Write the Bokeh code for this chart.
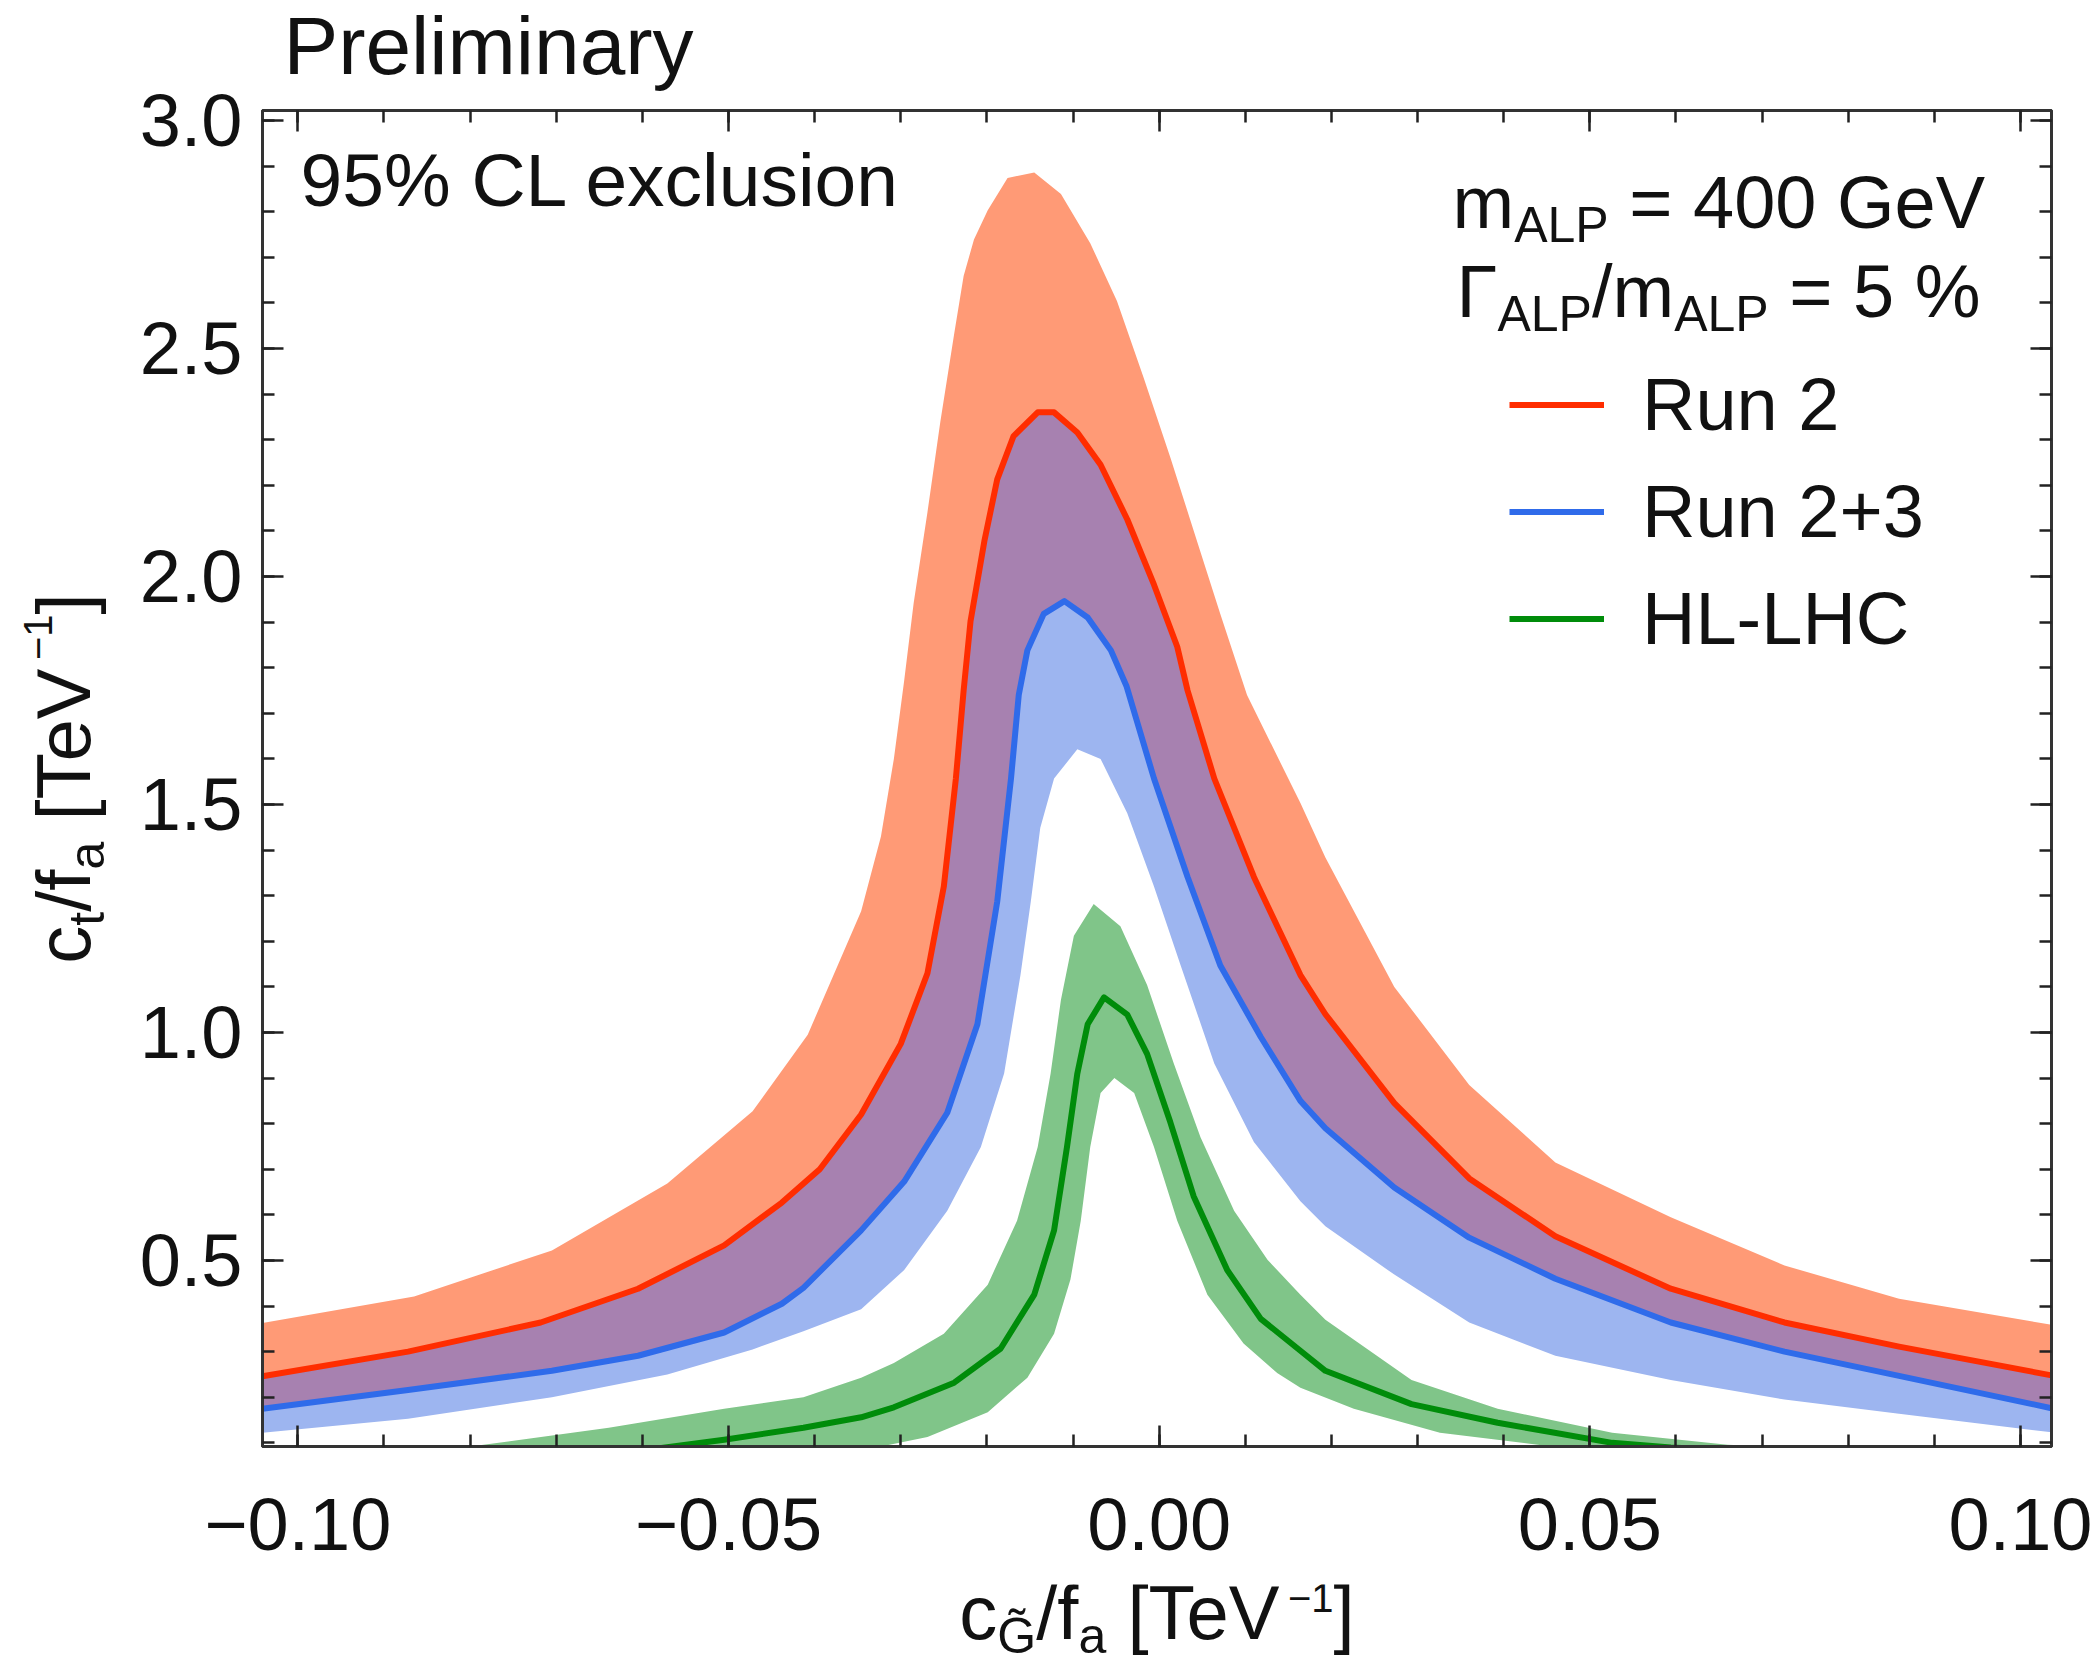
import math
from bokeh.plotting import figure
from bokeh.layouts import row, column
from bokeh.models import Range1d, LinearAxis, FixedTicker, Label, Legend, LegendItem
from bokeh.embed import file_html
from bokeh.resources import INLINE

# ---------------- data ----------------
run2_up_x = [-0.1041, -0.0865, -0.0705, -0.0571, -0.0472, -0.0408, -0.0346, -0.0323, -0.0308, -0.0296,
             -0.0285, -0.0269, -0.0254, -0.0238, -0.0227, -0.0215, -0.0199, -0.0176, -0.0145, -0.0114,
             -0.0080, -0.0049, -0.0018, 0.0013, 0.0040, 0.0071, 0.0102, 0.0164, 0.0193, 0.0273,
             0.0360, 0.0460, 0.0594, 0.0726, 0.0859, 0.1036]
run2_up_y = [0.363, 0.421, 0.522, 0.669, 0.827, 0.995, 1.266, 1.430, 1.600, 1.772,
             1.942, 2.141, 2.340, 2.532, 2.659, 2.739, 2.803, 2.874, 2.886, 2.839,
             2.731, 2.604, 2.436, 2.261, 2.101, 1.918, 1.740, 1.503, 1.384, 1.100,
             0.885, 0.715, 0.595, 0.489, 0.416, 0.359]

run2_x = [-0.1041, -0.0872, -0.0718, -0.0605, -0.0505, -0.0438, -0.0394, -0.0346, -0.0300, -0.0269,
          -0.0250, -0.0236, -0.0227, -0.0219, -0.0203, -0.0188, -0.0169, -0.0141, -0.0122, -0.0095,
          -0.0068, -0.0037, -0.0006, 0.0021, 0.0033, 0.0064, 0.0110, 0.0164, 0.0193, 0.0273,
          0.0360, 0.0460, 0.0594, 0.0726, 0.0859, 0.1036]
run2_y = [0.246, 0.300, 0.364, 0.438, 0.533, 0.627, 0.700, 0.820, 0.975, 1.130,
          1.320, 1.557, 1.750, 1.902, 2.077, 2.213, 2.308, 2.360, 2.360, 2.316,
          2.245, 2.125, 1.982, 1.846, 1.750, 1.557, 1.341, 1.126, 1.040, 0.845,
          0.680, 0.553, 0.438, 0.364, 0.311, 0.248]

run23_x = [-0.1041, -0.0872, -0.0705, -0.0605, -0.0505, -0.0438, -0.0413, -0.0346, -0.0296, -0.0246,
           -0.0211, -0.0188, -0.0172, -0.0163, -0.0153, -0.0134, -0.0110, -0.0083, -0.0056, -0.0038,
           -0.0006, 0.0033, 0.0071, 0.0118, 0.0164, 0.0193, 0.0273, 0.0360, 0.0460, 0.0594,
           0.0726, 0.0859, 0.1036]
run23_y = [0.175, 0.216, 0.258, 0.291, 0.342, 0.405, 0.440, 0.566, 0.673, 0.824,
           1.018, 1.287, 1.557, 1.740, 1.838, 1.918, 1.946, 1.910, 1.838, 1.760,
           1.557, 1.341, 1.147, 0.990, 0.850, 0.790, 0.660, 0.550, 0.460, 0.364,
           0.300, 0.247, 0.176]

run23_lo_x = [-0.1041, -0.0872, -0.0705, -0.0571, -0.0472, -0.0413, -0.0346, -0.0296, -0.0246, -0.0207,
              -0.0180, -0.0161, -0.0149, -0.0138, -0.0122, -0.0095, -0.0068, -0.0037, -0.0006, 0.0025,
              0.0064, 0.0110, 0.0164, 0.0193, 0.0273, 0.0360, 0.0460, 0.0594, 0.0726, 0.0859,
              0.1036]
run23_lo_y = [0.122, 0.153, 0.200, 0.250, 0.305, 0.345, 0.393, 0.479, 0.609, 0.749,
              0.910, 1.126, 1.287, 1.449, 1.557, 1.621, 1.600, 1.481, 1.320, 1.147,
              0.932, 0.760, 0.630, 0.575, 0.469, 0.364, 0.291, 0.238, 0.195, 0.164,
              0.123]

hl_up_x = [-0.1041, -0.0839, -0.0639, -0.0505, -0.0413, -0.0346, -0.0308, -0.0250, -0.0199, -0.0165,
           -0.0141, -0.0126, -0.0114, -0.0099, -0.0076, -0.0045, -0.0014, 0.0017, 0.0048, 0.0087,
           0.0126, 0.0164, 0.0193, 0.0293, 0.0393, 0.0526, 0.0660, 0.0793, 0.1036]
hl_up_y = [0.060, 0.082, 0.133, 0.175, 0.200, 0.243, 0.275, 0.339, 0.447, 0.587,
           0.749, 0.910, 1.072, 1.212, 1.282, 1.233, 1.104, 0.932, 0.770, 0.609,
           0.501, 0.425, 0.370, 0.238, 0.175, 0.122, 0.096, 0.085, 0.060]

hl_x = [-0.1041, -0.0605, -0.0505, -0.0413, -0.0346, -0.0308, -0.0238, -0.0184, -0.0145, -0.0122,
        -0.0107, -0.0095, -0.0083, -0.0064, -0.0037, -0.0014, 0.0013, 0.0040, 0.0079, 0.0118,
        0.0164, 0.0193, 0.0293, 0.0393, 0.0526, 0.0594, 0.1036]
hl_y = [0.045, 0.082, 0.107, 0.133, 0.156, 0.178, 0.232, 0.307, 0.425, 0.566,
        0.749, 0.910, 1.018, 1.077, 1.039, 0.953, 0.803, 0.641, 0.479, 0.372,
        0.302, 0.258, 0.185, 0.144, 0.100, 0.090, 0.050]

hl_lo_x = [-0.1041, -0.0500, -0.0346, -0.0269, -0.0199, -0.0153, -0.0122, -0.0103, -0.0091, -0.0080,
           -0.0068, -0.0052, -0.0029, -0.0006, 0.0021, 0.0056, 0.0098, 0.0137, 0.0164, 0.0226,
           0.0326, 0.0460, 0.1036]
hl_lo_y = [0.030, 0.060, 0.083, 0.113, 0.167, 0.243, 0.339, 0.458, 0.587, 0.749,
           0.867, 0.900, 0.867, 0.749, 0.587, 0.425, 0.318, 0.253, 0.221, 0.175,
           0.122, 0.091, 0.040]

series_labels = ["Run 2", "Run 2+3", "HL-LHC"]

x_ticks = [-0.10, -0.05, 0.0, 0.05, 0.10]
x_tick_labels = ["\u22120.10", "\u22120.05", "0.00", "0.05", "0.10"]
y_ticks = [0.5, 1.0, 1.5, 2.0, 2.5, 3.0]
y_tick_labels = ["0.5", "1.0", "1.5", "2.0", "2.5", "3.0"]
x_minor = [round(-0.10 + 0.01 * i, 2) for i in range(21)]
y_minor = [round(0.1 * i, 1) for i in range(1, 31)]

# ---------------- layout (absolute page pixels) ----------------
W, H = 2095, 1657
FL, FR, FT, FB = 262, 2051, 110, 1446      # plot frame
BOTTOM_BORDER = 138
LW, TH = 130, 94                           # left / top text strips
BH = H - FB - BOTTOM_BORDER                # bottom text strip
MW, MH = W - LW, H - TH - BH
FONT = "Liberation Sans"
TXT = "#111111"
BASE_SHIFT = 0.40   # renderer puts the alphabetic baseline this many em below the anchor


def strip(w, h, bl=0, br=0):
    f = figure(width=w, height=h, output_backend="svg", toolbar_location=None,
               x_range=Range1d(0, 1), y_range=Range1d(0, 1),
               x_axis_type=None, y_axis_type=None, min_border=0,
               min_border_left=bl, min_border_right=br)
    f.outline_line_color = None
    f.background_fill_color = "white"
    f.border_fill_color = "white"
    return f


left_fig = strip(LW, H)
top_fig = strip(MW, TH, FL - LW, W - FR)
bot_fig = strip(MW, BH, FL - LW, W - FR)

p = figure(width=MW, height=MH, output_backend="svg", toolbar_location=None,
           x_range=Range1d(-0.1041, 0.1036), y_range=Range1d(0.092, 3.022),
           x_axis_type=None, y_axis_type=None,
           min_border_left=FL - LW, min_border_right=W - FR,
           min_border_top=FT - TH, min_border_bottom=BOTTOM_BORDER)
p.outline_line_color = "#333333"
p.outline_line_width = 3
p.background_fill_color = "white"
p.border_fill_color = "white"


def make_axis(ticks, minor, labels, show, standoff):
    ax = LinearAxis(ticker=FixedTicker(ticks=ticks, minor_ticks=minor))
    ax.major_tick_in = 21
    ax.major_tick_out = 0
    ax.minor_tick_in = 12
    ax.minor_tick_out = 0
    ax.major_tick_line_color = "#222222"
    ax.minor_tick_line_color = "#222222"
    ax.major_tick_line_width = 2.5
    ax.minor_tick_line_width = 2.5
    ax.axis_line_color = "#333333"
    ax.axis_line_width = 3
    ax.major_label_text_font = FONT
    ax.major_label_standoff = standoff
    if show:
        ax.major_label_overrides = {t: l for t, l in zip(ticks, labels)}
        ax.major_label_text_color = TXT
        ax.major_label_text_font_size = "74px"
    else:
        # mirror axis: ticks only, labels not drawn at all
        ax.major_label_text_color = None
        ax.major_label_text_font_size = "0px"
    return ax


p.add_layout(make_axis(x_ticks, x_minor, x_tick_labels, True, 52), "below")
p.add_layout(make_axis(x_ticks, x_minor, x_tick_labels, False, 0), "above")
p.add_layout(make_axis(y_ticks, y_minor, y_tick_labels, True, 20), "left")
p.add_layout(make_axis(y_ticks, y_minor, y_tick_labels, False, 0), "right")


def band(xu, yu, xl, yl):
    return list(xu) + list(xl)[::-1], list(yu) + list(yl)[::-1]


bx, by = band(run2_up_x, run2_up_y, run2_x, run2_y)
p.patch(bx, by, fill_color="#FF9A76", line_color=None)
bx, by = band(run2_x, run2_y, run23_x, run23_y)
p.patch(bx, by, fill_color="#A781B0", line_color=None)
bx, by = band(run23_x, run23_y, run23_lo_x, run23_lo_y)
p.patch(bx, by, fill_color="#9DB5F0", line_color=None)
bx, by = band(hl_up_x, hl_up_y, hl_lo_x, hl_lo_y)
p.patch(bx, by, fill_color="#80C589", line_color=None)

r_red = p.line(run2_x, run2_y, line_color="#FF2D00", line_width=6, line_join="round")
r_blue = p.line(run23_x, run23_y, line_color="#2F6BEA", line_width=6, line_join="round")
r_green = p.line(hl_x, hl_y, line_color="#008C0A", line_width=6, line_join="round")

legend = Legend(items=[LegendItem(label=series_labels[0], renderers=[r_red]),
                       LegendItem(label=series_labels[1], renderers=[r_blue]),
                       LegendItem(label=series_labels[2], renderers=[r_green])],
                location=(1247, 785), orientation="vertical",
                glyph_width=95, glyph_height=85, label_height=85,
                label_standoff=38, spacing=22, padding=0, margin=0,
                background_fill_alpha=0, border_line_color=None,
                label_text_font=FONT, label_text_font_size="74px",
                label_text_color=TXT, label_text_baseline="middle")
p.add_layout(legend)

# ---------------- texts ----------------
CW = {' ': 278, '%': 889, '+': 584, '-': 333, '.': 278, '/': 278, '=': 584, '[': 278, ']': 278,
      'A': 667, 'C': 722, 'G': 778, 'H': 722, 'L': 556, 'P': 667, 'R': 722, 'T': 611, 'V': 667,
      'a': 556, 'c': 500, 'e': 556, 'f': 278, 'i': 222, 'l': 222, 'm': 833, 'n': 556, 'o': 556,
      'r': 333, 's': 500, 't': 278, 'u': 556, 'x': 500, 'y': 500, '\u0393': 553, '\u2212': 584,
      '\u0303': 0}


def tw(s, size):
    return sum(CW.get(ch, 556) for ch in s) / 1000.0 * size


def add_run(fig, ox, oy, oh, pieces, px, py, angle=0.0):
    """Place text pieces; (px, py) = page pixels where the first baseline starts.
    ox, oy: page position of fig's frame left/top, oh: frame height."""
    off = 0.0
    for text, size, shift in pieces:
        lead = len(text) - len(text.lstrip(" "))
        off += tw(" " * lead, size)
        body = text.lstrip(" ")
        corr = shift - BASE_SHIFT * size
        if angle == 0.0:
            ax_, ay_ = px + off, py + corr
        else:
            ax_, ay_ = px + corr, py - off
        fig.add_layout(Label(x=ax_ - ox, y=oh - (ay_ - oy), x_units="screen", y_units="screen",
                             text=body, angle=angle, text_font=FONT, text_font_size=f"{size}px",
                             text_color=TXT, text_align="left", text_baseline="alphabetic"))
        off += tw(body, size)
    return off


# inside the plot frame
FH = FB - FT
add_run(p, FL, FT, FH, [("95% CL exclusion", 75, 0)], 300, 209)
add_run(p, FL, FT, FH, [("m", 74, 0), ("ALP", 50, 12), (" = 400 GeV", 74, 0)], 1452, 232)
add_run(p, FL, FT, FH, [("\u0393", 74, 0), ("ALP", 50, 12), ("/m", 74, 0), ("ALP", 50, 12),
                        (" = 5 %", 74, 0)], 1456, 321)

# top strip (frame aligned with the plot frame horizontally)
add_run(top_fig, FL, 0, TH, [("Preliminary", 82, 0)], 283, 78)

# bottom strip: x-axis title
bot_top = FB + BOTTOM_BORDER
xlab = [("c", 76, 0), ("G\u0303", 50, 13), ("/f", 76, 0), ("a", 50, 13), (" [TeV", 76, 0),
        ("\u22121", 40, -29), ("]", 76, 0)]
xw = sum(tw(t, s) for t, s, _ in xlab)
add_run(bot_fig, FL, bot_top, BH, xlab, (FL + FR) / 2 - xw / 2, 1642)

# left strip: y-axis title (rotated)
ylab = [("c", 76, 0), ("t", 50, 13), ("/f", 76, 0), ("a", 50, 13), (" [TeV", 76, 0),
        ("\u22121", 40, -40), ("]", 76, 0)]
yw = sum(tw(t, s) for t, s, _ in ylab)
add_run(left_fig, 0, 0, H, ylab, 93, (FT + FB) / 2 + yw / 2, angle=math.pi / 2)

layout = row(left_fig, column(top_fig, p, bot_fig))
open("out.html", "w").write(file_html(layout, INLINE))
